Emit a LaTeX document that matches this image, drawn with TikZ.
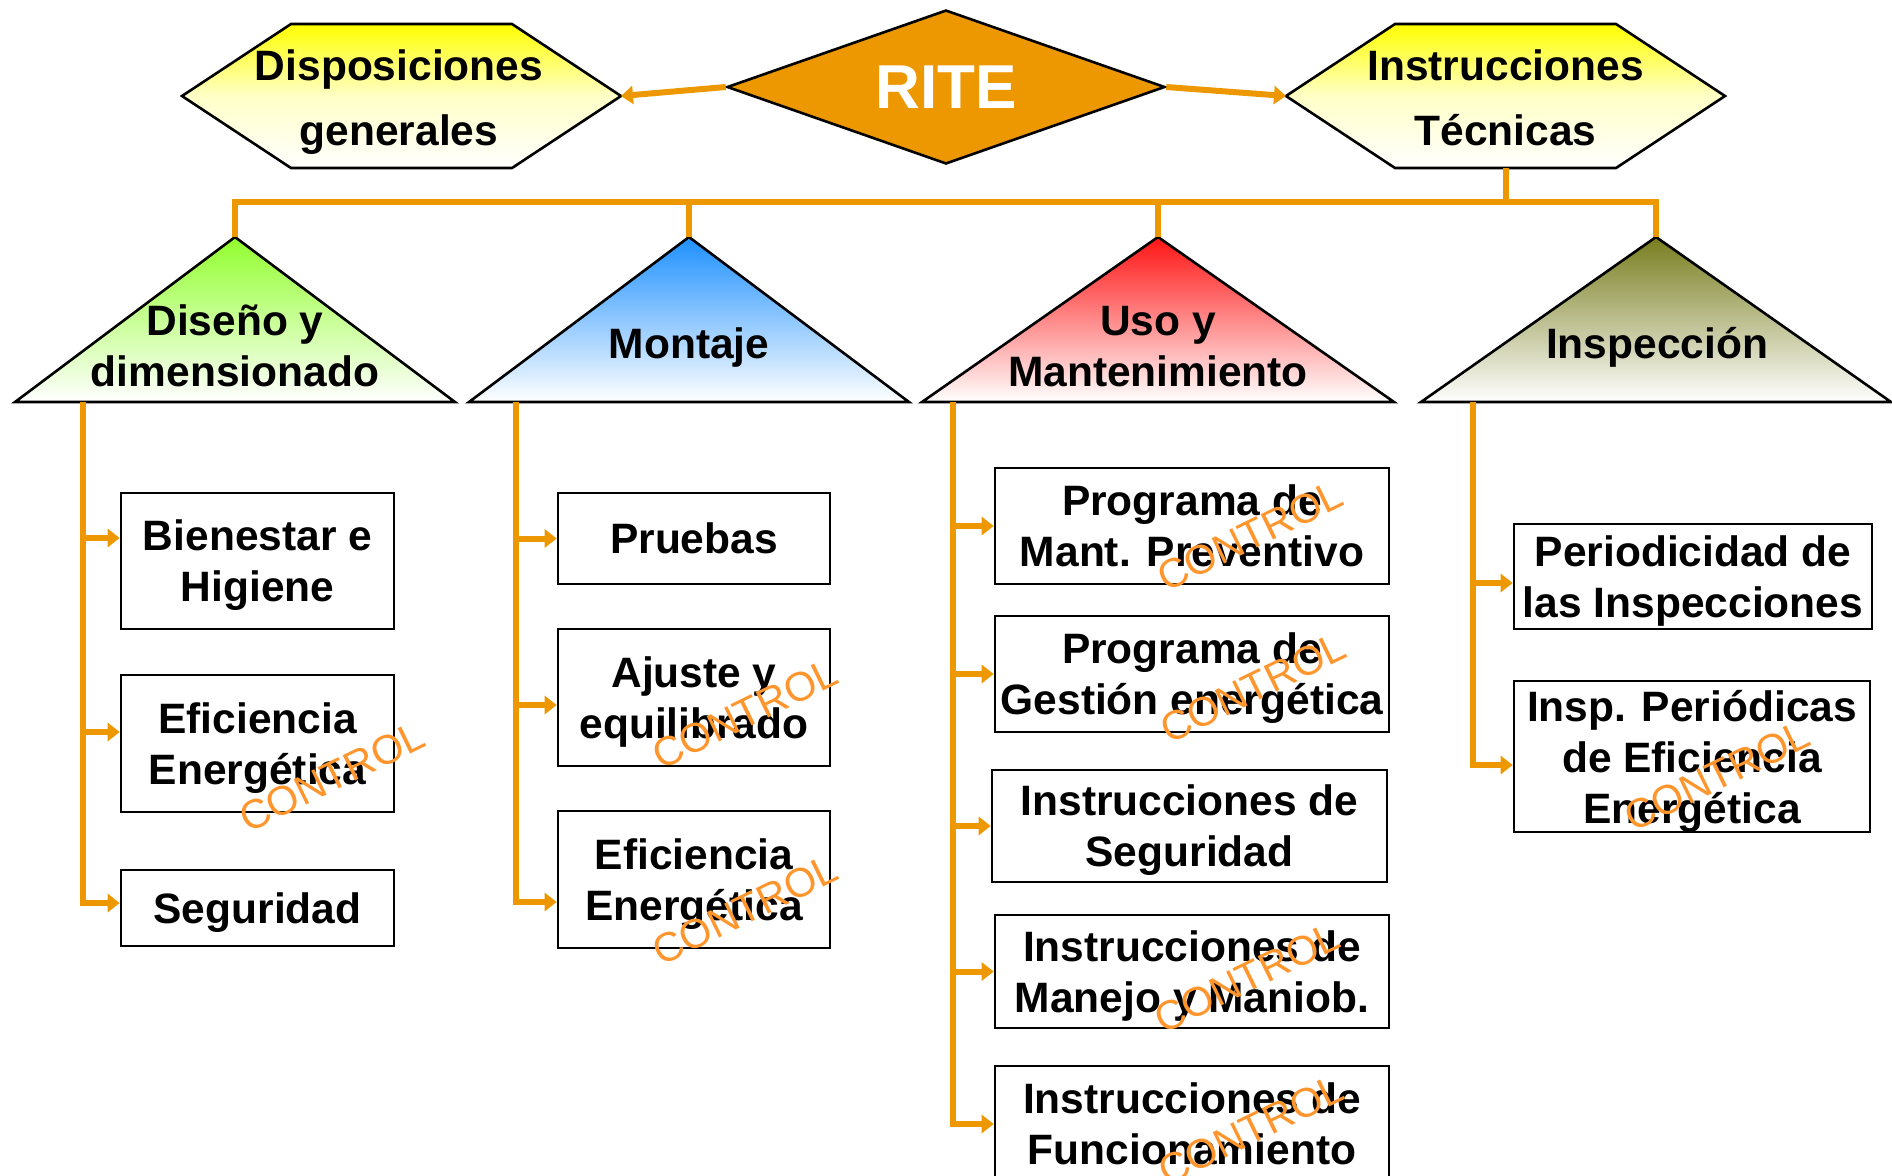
\documentclass[tikz,border=0pt]{standalone}
\usepackage{fontspec}
\setmainfont{Liberation Sans}
\usetikzlibrary{positioning,
                arrows.meta,                % arrow tips
                shapes.geometric}           % diamond

\definecolor{riteorange}{RGB}{237,152,0}
\definecolor{markorange}{RGB}{255,150,45}
\definecolor{trigreen}{RGB}{145,255,45}
\definecolor{triblue}{RGB}{30,144,255}
\definecolor{trired}{RGB}{255,20,20}
\definecolor{triolive}{RGB}{120,125,30}

\newcommand{\lblfont}{\fontsize{21.25}{25.5}\selectfont\bfseries}
\newcommand{\hexfont}{\fontsize{21.25}{32.5}\selectfont\bfseries}
\newcommand{\ritefont}{\fontsize{31}{37}\selectfont\bfseries}

\tikzset{
  bus/.style={riteorange, line width=3pt},
  link/.style={bus, -{Triangle[length=6pt,width=9pt]}},
  hexa/.style={draw, line width=1.3pt, top color=yellow, bottom color=white, middle color=yellow!22},
  tri/.style={draw, line width=1.3pt, bottom color=white},
  lbl/.style={inner sep=0pt, align=center, font=\lblfont},
  box/.style={lbl, draw, line width=1.3pt, fill=white, text depth=-0.7pt},
  stamp/.style={markorange, inner sep=0pt, rotate=26, font=\fontsize{20.5}{24}\selectfont},
}

\begin{document}
\begin{tikzpicture}[x=0.5pt, y=-0.5pt]
        \useasboundingbox (0,0) rectangle (1892,1175);

        % top row
        \draw[hexa] (182,96) -- (291,24) -- (512,24) -- (621,96) coordinate (dispo-e)
                    -- (512,168) -- (291,168) -- cycle;
        \draw[hexa] (1286,96) coordinate (tec-w) -- (1395,24) -- (1616,24) -- (1725,96)
                    -- (1616,168) -- (1395,168) -- cycle;
        \coordinate (tec-s) at (1505.5,168);
        \node[lbl, font=\hexfont] (dispo) at (399,102) {Disposiciones\\generales};
        \node[lbl, font=\hexfont] (tecnicas) at (1505.5,98) {Instrucciones\\Técnicas};
        \node[diamond, draw, line width=1.3pt, fill=riteorange, aspect=2.84,
              minimum width=219pt, minimum height=77pt, inner sep=0pt,
              text=white, font=\ritefont] (rite) at (946,87) {RITE};
        \draw[link] (rite.west) -- (dispo-e);
        \draw[link] (rite.east) -- (tec-w);

        % the four triangles
        \foreach \nm/\cx/\hw/\col in {diseno/235/220/trigreen, montaje/689/220/triblue,
                                      uso/1158/236/trired, insp/1656/235/triolive}
        {
            \draw[tri, top color=\col] (\cx-\hw,402) -- (\cx,237) coordinate (\nm-top)
                  -- (\cx+\hw,402) -- cycle;
        }
        \node[lbl] (diseno) at (235,346) {Diseño y\\dimensionado};
        \node[lbl] (montaje) at (689,347) {Montaje};
        \node[lbl] (uso) at (1158,347) {Uso y\\Mantenimiento};
        \node[lbl] (insp) at (1657,347) {Inspección};

        \coordinate (busy) at (0,202);
        \draw[bus] (tec-s) -- (tec-s |- busy);
        \draw[bus] (diseno-top) |- (insp-top |- busy) -- (insp-top);
        \draw[bus] (montaje-top) -- (montaje-top |- busy);
        \draw[bus] (uso-top) -- (uso-top |- busy);

        % boxes
        \node[box, minimum width=136.5pt, minimum height=68pt] (bienestar) at (257.5,561) {Bienestar e\\Higiene};
        \node[box, minimum width=136.5pt, minimum height=68.5pt] (eficd) at (257.5,743.5) {Eficiencia\\Energética};
        \node[box, minimum width=136.5pt, minimum height=38pt] (segd) at (257.5,908) {Seguridad};

        \node[box, minimum width=136pt, minimum height=45.5pt] (pruebas) at (694,538.5) {Pruebas};
        \node[box, minimum width=136pt, minimum height=68.5pt] (ajuste) at (694,697.5) {Ajuste y\\equilibrado};
        \node[box, minimum width=136pt, minimum height=68.5pt] (eficm) at (694,879.5) {Eficiencia\\Energética};

        \node[box, minimum width=197pt, minimum height=58pt] (progmant) at (1192,526) {Programa de\\Mant. Preventivo};
        \node[box, minimum width=197pt, minimum height=58pt] (proggest) at (1192,674) {Programa de\\Gestión energética};
        \node[box, minimum width=197.5pt, minimum height=56pt] (instseg) at (1189.5,826) {Instrucciones de\\Seguridad};
        \node[box, minimum width=197pt, minimum height=56.5pt] (instman) at (1192,971.5) {Instrucciones de\\Manejo y Maniob.};
        \node[box, minimum width=197pt, minimum height=58pt] (instfun) at (1192,1124) {Instrucciones de\\Funcionamiento};

        \node[box, minimum width=179pt, minimum height=52.5pt] (periodo) at (1693,576.5) {Periodicidad de\\las Inspecciones};
        \node[box, minimum width=178pt, minimum height=75.5pt] (inspef) at (1692,756.5) {Insp. Periódicas\\de Eficiencia\\Energética};

        % branches (arrow heights as in the drawing)
        \foreach \b/\dy in {bienestar/11.5, eficd/5.75, segd/2.5, pruebas/0, ajuste/-3.75,
                            eficm/-11.25, progmant/0, proggest/0, instseg/0, instman/0,
                            instfun/0, periodo/-3.25, inspef/-4.25}
            \coordinate (\b-in) at ([yshift=\dy pt]\b.west);
        \coordinate (sp1) at (83,402);
        \coordinate (sp2) at (516,402);
        \coordinate (sp3) at (953,402);
        \coordinate (sp4) at (1473,402);
        \draw[link] (sp1) |- (segd-in);
        \foreach \b in {bienestar, eficd}
            \draw[link] (sp1 |- \b-in) -- (\b-in);
        \draw[link] (sp2) |- (eficm-in);
        \foreach \b in {pruebas, ajuste}
            \draw[link] (sp2 |- \b-in) -- (\b-in);
        \draw[link] (sp3) |- (instfun-in);
        \foreach \b in {progmant, proggest, instseg, instman}
            \draw[link] (sp3 |- \b-in) -- (\b-in);
        \draw[link] (sp4) |- (inspef-in);
        \draw[link] (sp4 |- periodo-in) -- (periodo-in);

        % CONTROL stamps
        \foreach \x/\y [count=\i] in {332/777, 745/714, 745/910, 1250/536,
                                      1253/688, 1247/978, 1251/1130, 1717/776}
            \node[stamp] (ctl\i) at (\x,\y) {CONTROL};

\end{tikzpicture}
\end{document}
